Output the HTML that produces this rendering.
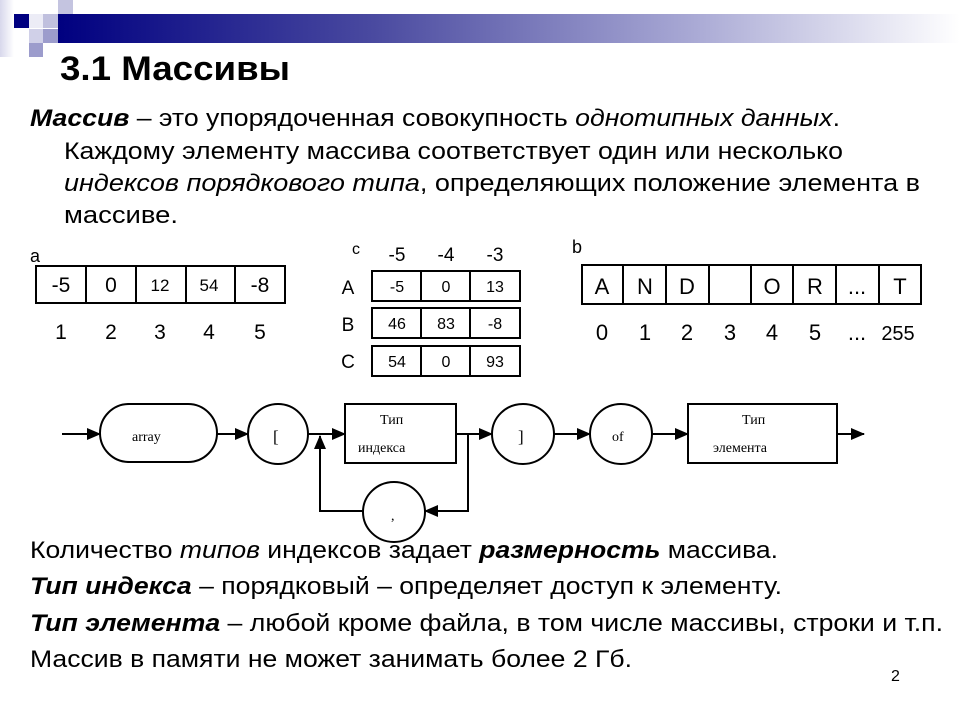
<!DOCTYPE html>
<html><head><meta charset="utf-8"><style>
html,body{margin:0;padding:0;background:#fff;width:960px;height:720px;overflow:hidden}
svg{display:block}
text{font-family:"Liberation Sans",sans-serif;fill:#000}
.s{font-family:"Liberation Serif",serif}
</style></head><body>
<svg width="960" height="720" viewBox="0 0 960 720" xmlns="http://www.w3.org/2000/svg">
<defs>
<linearGradient id="g" x1="0" x2="1" y1="0" y2="0">
<stop offset="0" stop-color="#000080"/><stop offset="0.35" stop-color="#4a4aa0"/><stop offset="0.7" stop-color="#a8a8d4"/><stop offset="1" stop-color="#ffffff"/>
</linearGradient>
<linearGradient id="g2" x1="0" x2="1"><stop offset="0" stop-color="#d8d8ec"/><stop offset="1" stop-color="#fff"/></linearGradient>
<marker id="ar" markerWidth="14" markerHeight="12" refX="13" refY="6" orient="auto" markerUnits="userSpaceOnUse"><path d="M0,0 L14,6 L0,12 z" fill="#000"/></marker>
</defs>
<rect x="0" y="0" width="14" height="57" fill="url(#g2)"/>
<rect x="58" y="0" width="15" height="14" fill="#c4c4e0"/>
<rect x="14" y="14" width="15" height="14" fill="#000080"/>
<rect x="29" y="14" width="14" height="14" fill="#ececf6"/>
<rect x="43" y="14" width="15" height="14" fill="#c0c0de"/>
<rect x="58" y="14" width="902" height="29" fill="url(#g)"/>
<rect x="29" y="29" width="14" height="14" fill="#d0d0e8"/>
<rect x="43" y="29" width="15" height="14" fill="#9c9ccc"/>
<rect x="29" y="43" width="14" height="14" fill="#9c9ccc"/>
<text x="60" y="80" font-size="34" font-weight="bold" textLength="230" lengthAdjust="spacingAndGlyphs">3.1 Массивы</text>
<g font-size="24">
<text x="30" y="126" textLength="810" lengthAdjust="spacingAndGlyphs"><tspan font-weight="bold" font-style="italic">Массив</tspan> – это упорядоченная совокупность <tspan font-style="italic">однотипных данных</tspan>.</text>
<text x="64" y="159" textLength="779" lengthAdjust="spacingAndGlyphs">Каждому элементу массива соответствует один или несколько</text>
<text x="64" y="191" textLength="856" lengthAdjust="spacingAndGlyphs"><tspan font-style="italic">индексов порядкового типа</tspan>, определяющих положение элемента в</text>
<text x="64" y="223" textLength="114" lengthAdjust="spacingAndGlyphs">массиве.</text>
</g>
<g fill="none" stroke="#000" stroke-width="2">
<rect x="36" y="266" width="249" height="37"/>
<line x1="86" y1="266" x2="86" y2="303"/><line x1="136" y1="266" x2="136" y2="303"/><line x1="186" y1="266" x2="186" y2="303"/><line x1="235" y1="266" x2="235" y2="303"/>
</g>
<text x="30" y="262" font-size="18">a</text>
<g font-size="21" text-anchor="middle">
<text x="61" y="292">-5</text><text x="111" y="292">0</text><text x="160" y="291" font-size="17">12</text><text x="209" y="291" font-size="17">54</text><text x="260" y="292">-8</text>
<text x="61" y="339">1</text><text x="111" y="339">2</text><text x="160" y="339">3</text><text x="209" y="339">4</text><text x="260" y="339">5</text>
</g>
<text x="352" y="254" font-size="16">c</text>
<g font-size="19" text-anchor="middle">
<text x="397" y="261">-5</text><text x="446" y="261">-4</text><text x="495" y="261">-3</text>
<text x="348" y="294">A</text><text x="348" y="331">B</text><text x="348" y="368">C</text>
</g>
<g fill="none" stroke="#000" stroke-width="2">
<rect x="372" y="271" width="148" height="30"/><line x1="421" y1="271" x2="421" y2="301"/><line x1="470" y1="271" x2="470" y2="301"/>
<rect x="372" y="308" width="148" height="30"/><line x1="421" y1="308" x2="421" y2="338"/><line x1="470" y1="308" x2="470" y2="338"/>
<rect x="372" y="346" width="148" height="30"/><line x1="421" y1="346" x2="421" y2="376"/><line x1="470" y1="346" x2="470" y2="376"/>
</g>
<g font-size="16" text-anchor="middle">
<text x="397" y="292">-5</text><text x="446" y="292">0</text><text x="495" y="292">13</text>
<text x="397" y="329">46</text><text x="446" y="329">83</text><text x="495" y="329">-8</text>
<text x="397" y="367">54</text><text x="446" y="367">0</text><text x="495" y="367">93</text>
</g>
<text x="572" y="253" font-size="18">b</text>
<g fill="none" stroke="#000" stroke-width="2">
<rect x="582" y="265" width="339" height="39"/>
<line x1="623" y1="265" x2="623" y2="304"/><line x1="666" y1="265" x2="666" y2="304"/><line x1="709" y1="265" x2="709" y2="304"/><line x1="751" y1="265" x2="751" y2="304"/><line x1="793" y1="265" x2="793" y2="304"/><line x1="836" y1="265" x2="836" y2="304"/><line x1="879" y1="265" x2="879" y2="304"/>
</g>
<g font-size="22" text-anchor="middle">
<text x="602" y="294">A</text><text x="645" y="294">N</text><text x="687" y="294">D</text><text x="772" y="294">O</text><text x="815" y="294">R</text><text x="857" y="294">...</text><text x="900" y="294">T</text>
<text x="602" y="340">0</text><text x="645" y="340">1</text><text x="687" y="340">2</text><text x="730" y="340">3</text><text x="772" y="340">4</text><text x="815" y="340">5</text><text x="857" y="340">...</text><text x="898" y="340" font-size="20">255</text>
</g>
<g fill="none" stroke="#000" stroke-width="2">
<rect x="100" y="404" width="117" height="58" rx="29"/>
<ellipse cx="278" cy="434" rx="30" ry="30"/>
<rect x="345" y="404" width="111" height="59"/>
<ellipse cx="523" cy="434" rx="31" ry="30"/>
<ellipse cx="621" cy="434" rx="31" ry="30"/>
<rect x="688" y="404" width="149" height="59"/>
<ellipse cx="394" cy="512" rx="31" ry="30"/>
<line x1="62" y1="434" x2="100" y2="434" marker-end="url(#ar)"/>
<line x1="217" y1="434" x2="248" y2="434" marker-end="url(#ar)"/>
<line x1="308" y1="434" x2="345" y2="434" marker-end="url(#ar)"/>
<line x1="456" y1="434" x2="492" y2="434" marker-end="url(#ar)"/>
<line x1="554" y1="434" x2="590" y2="434" marker-end="url(#ar)"/>
<line x1="652" y1="434" x2="688" y2="434" marker-end="url(#ar)"/>
<line x1="837" y1="434" x2="864" y2="434" marker-end="url(#ar)"/>
<polyline points="468,434 468,511 425,511" marker-end="url(#ar)"/>
<polyline points="363,511 320,511 320,436" marker-end="url(#ar)"/>
</g>
<g font-size="14">
<text class="s" x="132" y="441">array</text>
<text class="s" x="273" y="442" font-size="17">[</text>
<text class="s" x="380" y="424">Тип</text>
<text class="s" x="358" y="452">индекса</text>
<text class="s" x="518" y="442" font-size="17">]</text>
<text class="s" x="612" y="441">of</text>
<text class="s" x="742" y="424">Тип</text>
<text class="s" x="713" y="452">элемента</text>
<text class="s" x="391" y="520">,</text>
</g>
<g font-size="24">
<text x="30" y="558" textLength="748" lengthAdjust="spacingAndGlyphs">Количество <tspan font-style="italic">типов</tspan> индексов задает <tspan font-weight="bold" font-style="italic">размерность</tspan> массива.</text>
<text x="30" y="594" textLength="752" lengthAdjust="spacingAndGlyphs"><tspan font-weight="bold" font-style="italic">Тип индекса</tspan> – порядковый – определяет доступ к элементу.</text>
<text x="30" y="631" textLength="913" lengthAdjust="spacingAndGlyphs"><tspan font-weight="bold" font-style="italic">Тип элемента</tspan> – любой кроме файла, в том числе массивы, строки и т.п.</text>
<text x="30" y="667" textLength="602" lengthAdjust="spacingAndGlyphs">Массив в памяти не может занимать более 2 Гб.</text>
</g>
<text x="891" y="681" font-size="16">2</text>
</svg>
</body></html>
